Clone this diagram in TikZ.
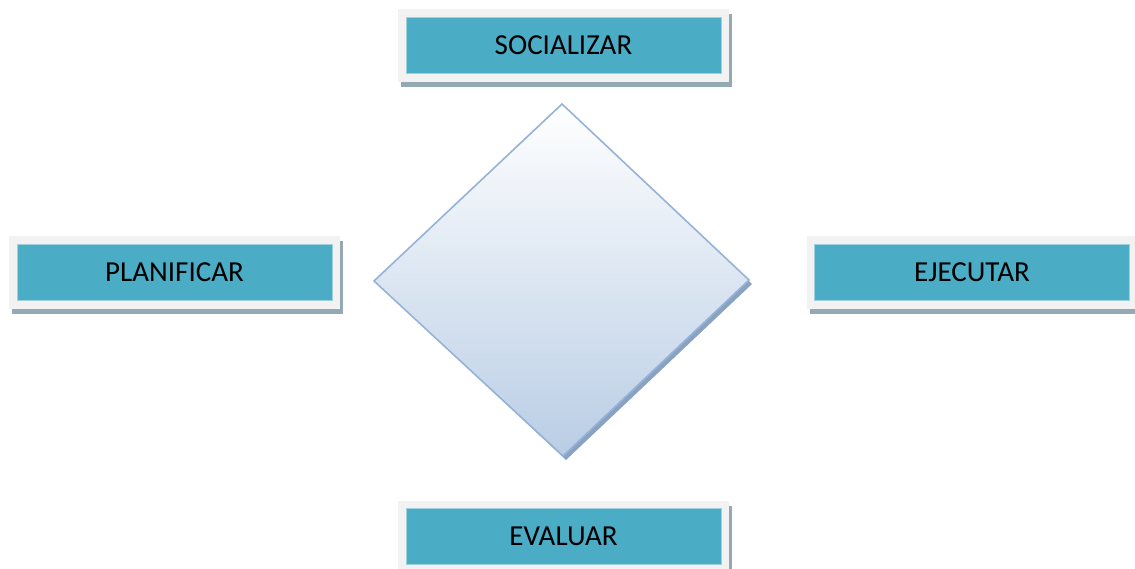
\documentclass[tikz,border=0pt]{standalone}
\usepackage{fontspec}
\setmainfont{Carlito}
\usetikzlibrary{shadows}
\definecolor{teal1}{HTML}{4BACC6}
\definecolor{tealedge}{HTML}{9FD0DE}
\definecolor{frameg}{HTML}{F2F2F2}
\definecolor{shadowc}{HTML}{93A9B3}
\definecolor{diaedge}{HTML}{95B3D7}
\definecolor{diabot}{HTML}{B9CDE5}
\definecolor{diashadow}{HTML}{8AA2C2}
\tikzset{
  framebox/.style={rectangle, fill=frameg, inner sep=0pt, minimum width=331pt, minimum height=73pt,
    drop shadow={shadow xshift=3pt, shadow yshift=-5pt, fill=shadowc, opacity=1}},
  labelbox/.style={rectangle, fill=teal1, draw=tealedge, line width=1pt, inner sep=0pt,
    minimum width=315pt, minimum height=56pt, font=\fontsize{29}{34}\selectfont, text=black}
}
\begin{document}
\begin{tikzpicture}[x=1pt,y=-1pt]
\useasboundingbox (0,0) rectangle (1135,568);
% diamond
\fill[diashadow] (565,107) -- (752,284) -- (566,460) -- (378,284) -- cycle;
\shade[top color=white, bottom color=diabot, draw=diaedge, line width=1.6pt, line join=miter]
  (562,104) -- (749,280) -- (563,456) -- (374,281) -- cycle;
% boxes
\node[framebox] (fs) at (563,45.5) {};
\node[labelbox] (s) at (563.5,45) {SOCIALIZAR};
\node[framebox] (fp) at (174,272) {};
\node[labelbox] (p) at (174.5,272) {PLANIFICAR};
\node[framebox] (fe) at (972,272) {};
\node[labelbox] (e) at (972,272) {EJECUTAR};
\node[framebox] (fv) at (563.5,537.5) {};
\node[labelbox] (v) at (563.5,536) {EVALUAR};
\end{tikzpicture}
\end{document}
